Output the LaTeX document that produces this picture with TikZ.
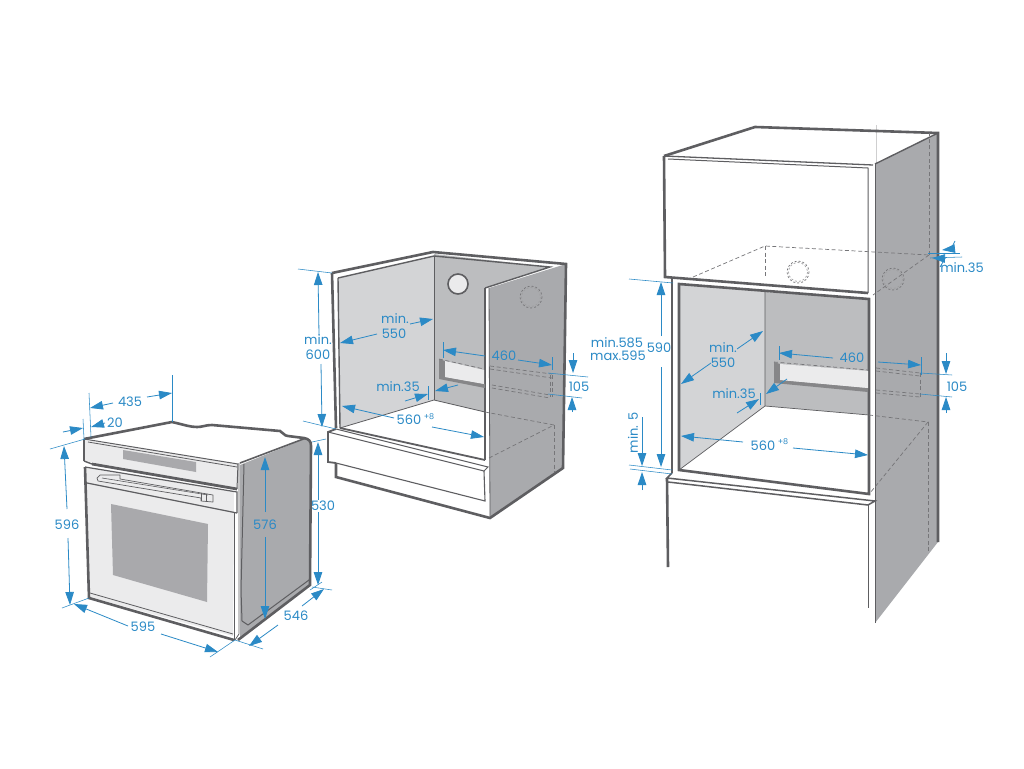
\documentclass[tikz,border=0pt]{standalone}
\usepackage{fontspec}
\setmainfont{Poppins}
\usetikzlibrary{arrows.meta}
\definecolor{dimblue}{HTML}{2B8AC6}
\definecolor{edge}{HTML}{5E5E61}
\definecolor{sidegray}{HTML}{A9AAAD}
\definecolor{backgray}{HTML}{BCBDBF}
\definecolor{wallgray}{HTML}{D3D4D6}
\definecolor{panelgray}{HTML}{EBEBEC}
\definecolor{windowgray}{HTML}{A9A9AC}
\tikzset{
  x=1pt,y=-1pt,
  outline/.style={draw=edge,line width=2.6pt,line join=miter},
  thinedge/.style={draw=edge,line width=1pt},
  hidden/.style={draw=edge!85,line width=.7pt,dash pattern=on 4pt off 2.6pt},
  dima/.style={draw=dimblue,line width=.8pt,-{Triangle[length=13pt,width=8.5pt]}},
  exten/.style={draw=dimblue,line width=.55pt},
  lbl/.style={text=dimblue,font=\fontsize{13}{15}\selectfont,inner sep=0pt},
  sup8/.style={text=dimblue,font=\fontsize{8}{9}\selectfont,inner sep=0pt}
}
\begin{document}
\begin{tikzpicture}
\useasboundingbox (0,0) rectangle (1024,768);
\fill[white] (0,0) rectangle (1024,768);

%%% OVEN
\fill[white] (85,439)--(172,422)--(197,427)--(210,425)--(280,432)--(285,436)--(307,438)--(240,463)--cycle;
\fill[sidegray] (240,465)--(307,438)--(311,445)--(309,586)--(240,638)--cycle;
\draw[outline] (84,439)--(172,422) .. controls (185,425) and (190,427) .. (197,427) .. controls (203,427) and (205,425) .. (212,425) -- (280,431) .. controls (283,432) and (284,436) .. (288,436) -- (304,438) .. controls (309,439) and (311,441) .. (311,446) -- (310,585) -- (238,640);
\draw[line width=1.6pt,draw=edge] (240,463)--(306,438);
\draw[draw=edge,line width=1pt,line join=round] (244,464)--(241,590)--(242,621)--(248,625)--(309,580);
\fill[panelgray] (85,440)--(238,464)--(237,488)--(85,461)--cycle;
\draw[thinedge] (84,439)--(238,464)--(237,489);
\draw[draw=edge,line width=1.6pt] (84,439)--(84,461);
\draw[thinedge,line width=.8pt] (88,442)--(237,467);
\fill[windowgray] (123,450)--(196,462)--(196,472)--(123,459)--cycle;
\draw[draw=edge,line width=2.8pt] (92,464)--(237,489);
\draw[draw=edge,line width=1.4pt] (84,461)--(92,464);
% door
\fill[panelgray] (86,467)--(234,492)--(233,636)--(90,597)--cycle;
\draw[outline] (85,467)--(89,598)--(234,640);
\draw[thinedge,line width=1.2pt] (87,483)--(237,513);
\draw[thinedge,line width=.8pt] (90,593)--(233,634);
\draw[thinedge,line width=1.2pt] (85,467)--(237,492)--(237,513);
\draw[thinedge,line width=1pt] (234,513)--(234,640);
\draw[thinedge,line width=.8pt] (239,463)--(239,634)--(235,640);
% handle
\filldraw[fill=panelgray,draw=edge,line width=.7pt,line join=round] (97,478)--(100,475)--(120,475)--(120,479)--(213,495)--(213,502)--(201,501)--(201,498)--(98,481)--cycle;
\draw[draw=edge,line width=.6pt] (102,478)--(208,495);
\draw[draw=edge,line width=.6pt] (201,493)--(201,501);
\draw[draw=edge,line width=.6pt] (206,494)--(206,501);
% window
\fill[windowgray] (111,504)--(208,524)--(207,602)--(113,575)--cycle;

% dims oven
\draw[exten] (89,393)--(91,437);
\draw[exten] (172,375)--(172,422);
\draw[exten] (83,419)--(84,439);
\draw[exten] (50,449)--(85,439);
\draw[exten] (62,608)--(89,598);
\draw[exten] (210,657)--(235,640);
\draw[exten] (235,640)--(263,649);
\draw[exten] (312,587)--(332,590);
\draw[exten] (312,442)--(326,439);
\draw[exten] (310,590)--(322,582);
\draw[dima] (113,403)--(90,408);
\draw[dima] (147,397)--(172,393);
\node[lbl] (t435) at (130,402) {435};
\draw[dima] (105,423)--(91,427);
\draw[dima] (63,432)--(83,428);
\node[lbl] (t20) at (115,423) {20};
\draw[dima] (67,509)--(64,446);
\draw[dima] (68,538)--(70,605);
\node[lbl] (t596) at (67,525) {596};
\draw[dima] (128,626)--(74,604);
\draw[dima] (161,634)--(218,652);
\node[lbl] (t595) at (143,627) {595};
\draw[dima] (278,625)--(249,646);
\draw[dima] (302,606)--(324,589);
\node[lbl] (t546) at (296,616) {546};
\draw[dima] (318,500)--(318,442);
\draw[dima] (318,512)--(318,585);
\node[lbl] (t530) at (323,506) {530};
\draw[dima] (265,512)--(265,457);
\draw[dima] (265,537)--(265,619);
\node[lbl] (t576) at (265,525) {576};

%%% MIDDLE CABINET
\fill[wallgray] (338,278)--(434,256)--(434,400)--(340,428)--cycle;
\fill[backgray] (434,254)--(550,267)--(485,288)--(485,412)--(434,400)--cycle;
\fill[sidegray] (489,288)--(566,264)--(563,468)--(490,518)--cycle;
\draw[outline] (332,273)--(433,252)--(566,264)--(563,468)--(490,518)--(336,477)--(336,463);
\draw[outline] (332,273)--(336,428);
\draw[thinedge,line width=1.4pt] (338,278)--(340,428);
\draw[thinedge,line width=1.8pt] (340,428)--(485,460);
\draw[thinedge,line width=1.4pt] (338,278)--(434,256)--(550,267)--(485,288);
\draw[thinedge,line width=1.4pt] (485,288)--(485,460);
\draw[thinedge,line width=.8pt] (489,288)--(490,518);
\draw[thinedge,line width=.8pt] (434,256)--(434,400);
\draw[thinedge,line width=.8pt] (340,428)--(434,400)--(485,412);
% plinth
\draw[thinedge,line width=1.8pt] (336,429)--(328,432)--(328,462)--(336,463);
\draw[thinedge,line width=1pt] (336,429)--(488,467)--(484,471)--(328,432);
\draw[thinedge,line width=1.1pt] (336,463)--(485,501)--(484,471);
% slot
\fill[edge!75] (439,359)--(445,361)--(445,377)--(485,384)--(485,388)--(439,379)--cycle;
\fill[panelgray] (445,361)--(484,370)--(484,384)--(445,377)--cycle;
\draw[hidden] (439,359)--(484,369);
\draw[hidden] (490,366)--(552,374);
\draw[hidden] (490,369)--(552,378);
\draw[hidden] (492,385)--(550,395);
\draw[hidden] (492,388)--(550,398);
\draw[hidden] (550,375)--(550,397);
\draw[hidden] (552,375)--(552,397);
\draw[hidden] (485,412)--(554,425);
\draw[hidden] (489,458)--(554,425);
\draw[hidden] (554,425)--(554,472);
\draw[draw=edge,line width=1.6pt,fill=panelgray] (458,284) circle[radius=10];
\draw[hidden,dash pattern=on 2pt off 2pt] (531,297) circle[radius=11];
\draw[hidden,dash pattern=on 2pt off 2pt,draw=edge!60] (531,297) circle[radius=9.5];
% dims middle
\draw[exten] (298,269)--(332,273);
\draw[exten] (303,421)--(336,429);
\draw[exten] (443,342)--(443,358);
\draw[exten] (552,357)--(552,370);
\draw[exten] (548,373)--(588,377);
\draw[exten] (548,394)--(582,398);
\draw[exten] (428,386)--(428,400);
\draw[dima] (319,335)--(318,272);
\draw[dima] (321,364)--(322,427);
\node[lbl] (m1) at (318,340) {min.};
\node[lbl] (m2) at (318,355) {600};
\draw[dima] (410,324)--(433,319);
\draw[dima] (377,334)--(340,343);
\node[lbl] (m3) at (395,319) {min.};
\node[lbl] (m4) at (394,334) {550};
\draw[dima] (485,356)--(443,350);
\draw[dima] (518,360)--(552,365);
\node[lbl] (m5) at (504,356) {460};
\draw[dima] (573,353)--(573,373);
\draw[dima] (572,412)--(572,397);
\node[lbl] (m6) at (579,387) {105};
\draw[dima] (405,401)--(428,394);
\draw[dima] (458,385)--(435,391);
\node[lbl] (m7) at (398,387) {min.35};
\draw[dima] (394,418)--(342,406);
\draw[dima] (432,427)--(484,437);
\node[lbl] (m8) at (409,420) {560};
\node[sup8] (m9) at (429,417) {+8};

%%% RIGHT CABINET
\fill[sidegray] (875,164)--(938,133)--(938,542)--(875,623)--cycle;
\draw[draw=edge!30,line width=.4pt] (876,125)--(876,164);
\draw[outline] (664,156)--(755,127)--(938,133)--(938,542);
\draw[thinedge,line width=1.4pt] (875,164)--(938,133);
\draw[outline] (664,156)--(665,277)--(868,293);
\draw[thinedge,line width=1.3pt] (664,156)--(873,165);
\draw[thinedge,line width=1pt] (668,159)--(868,168)--(868,293);
\draw[thinedge,line width=.7pt] (875,164)--(875,623);
% opening
\fill[wallgray] (679,284)--(765,292)--(765,406)--(679,470)--cycle;
\fill[backgray] (765,292)--(869,299)--(869,415)--(765,406)--cycle;
\draw[outline] (672,278)--(672,473);
\draw[outline] (679,284)--(869,299)--(869,494)--(679,470)--cycle;
\draw[thinedge,line width=.7pt] (765,292)--(765,406)--(679,470);
\draw[thinedge,line width=.7pt] (765,406)--(869,415);
% slot
\fill[edge!75] (774,362)--(780,364)--(780,380)--(868,388)--(868,392)--(774,383)--cycle;
\fill[panelgray] (780,364)--(868,371)--(868,388)--(780,380)--cycle;
\draw[hidden] (774,362)--(868,370);
% ledge and posts
\draw[thinedge,line width=1.5pt] (672,473)--(667,478)--(875,501)--(868,505)--(668,482);
\draw[outline] (667,478)--(668,567);
\draw[thinedge] (868,505)--(868,608);
% hidden
\draw[hidden] (693,277)--(765,246)--(929,255);
\draw[hidden] (765,246)--(765,278);
\draw[hidden] (929,255)--(873,295);
\draw[hidden] (929,255)--(929,133);
\draw[hidden] (876,368)--(920,373);
\draw[hidden] (876,371)--(920,376);
\draw[hidden] (876,390)--(920,394);
\draw[hidden] (876,393)--(920,397);
\draw[hidden] (920,373)--(920,397);
\draw[hidden] (869,415)--(928,422)--(870,493);
\draw[hidden] (928,422)--(928,553);
\draw[hidden,dash pattern=on 2pt off 2pt] (798,272) circle[radius=11];
\draw[hidden,dash pattern=on 2pt off 2pt,draw=edge!60] (798,272) circle[radius=9.5];
\draw[hidden,dash pattern=on 2pt off 2pt] (893,279) circle[radius=11];
\draw[hidden,dash pattern=on 2pt off 2pt,draw=edge!60] (893,279) circle[radius=9.5];
% dims right
\draw[exten] (629,279)--(673,283);
\draw[exten] (629,465)--(672,470);
\draw[exten] (630,469)--(672,474);
\draw[exten] (779,346)--(779,360);
\draw[exten] (921,357)--(921,375);
\draw[exten] (920,373)--(952,375);
\draw[exten] (920,394)--(952,397);
\draw[exten] (760,393)--(760,405);
\draw[exten] (928,253)--(960,253);
\draw[exten] (930,258)--(962,257);
\draw[dima] (661,336)--(661,282);
\draw[dima] (661,367)--(661,467);
\node[lbl] (r1) at (659,348) {590};
\node[lbl] (r2) at (617,343) {min.585};
\node[lbl] (r3) at (618,356) {max.595};
\node[lbl,rotate=90] (r4) at (633,433) {min. 5};
\draw[dima] (642,417)--(642,466);
\draw[dima] (642,490)--(642,472);
\draw[dima] (737,349)--(763,331);
\draw[dima] (711,363)--(681,384);
\node[lbl] (r5) at (723,348) {min.};
\node[lbl] (r6) at (723,363) {550};
\draw[dima] (833,358)--(779,353);
\draw[dima] (878,362)--(921,365);
\node[lbl] (r7) at (852,358) {460};
\draw[dima] (946,353)--(946,374);
\draw[dima] (946,413)--(946,397);
\node[lbl] (r8) at (957,387) {105};
\draw[dima] (737,413)--(759,399);
\draw[dima] (787,379)--(766,394);
\node[lbl] (r9) at (734,394) {min.35};
\draw[dima] (743,442)--(681,436);
\draw[dima] (793,448)--(868,455);
\node[lbl] (r10) at (763,446) {560};
\node[sup8] (r11) at (783,442) {+8};
\draw[dima] (955,241)--(951,249)--(942,250);
\draw[dima] (940,267)--(945,258.5)--(932,258);
\node[lbl] (r12) at (962,268) {min.35};
\end{tikzpicture}
\end{document}
